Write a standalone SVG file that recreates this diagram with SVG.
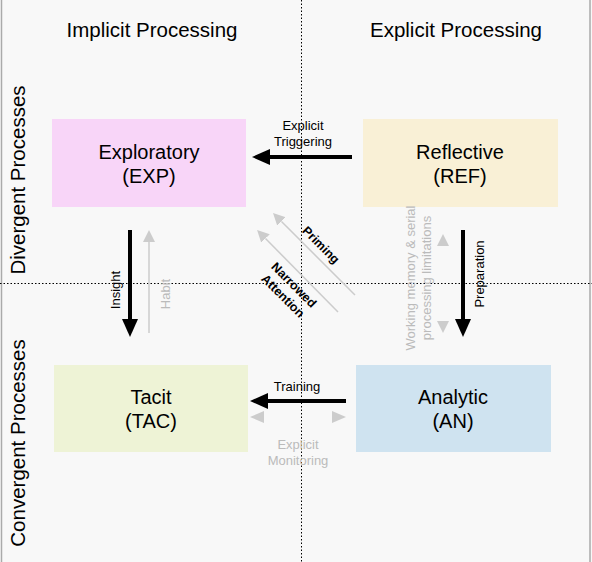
<svg xmlns="http://www.w3.org/2000/svg" width="592" height="562" viewBox="0 0 592 562">
<style>
text{font-family:"Liberation Sans",Arial,sans-serif;fill:#000;text-anchor:middle}
.hdr{font-size:20.5px}
.node{font-size:20px}
.lbl{font-size:13px}
.glbl{font-size:13px;fill:#bbbbbb}
.dlbl{font-size:12.5px;font-weight:bold}
.blk{stroke:#000;stroke-width:4;fill:none}
.gry{stroke:#cccccc;stroke-width:1.5;fill:none}
.ghead{fill:#cccccc}
.div{stroke:#000;stroke-width:1;stroke-dasharray:1.5,2;fill:none}
</style>
<defs>
<marker id="hb" markerUnits="userSpaceOnUse" markerWidth="18" markerHeight="16" viewBox="0 0 18 16" refX="0" refY="8" orient="auto"><path d="M0,0 L18,8 L0,16 z" fill="#000"/></marker>
<marker id="hg" markerUnits="userSpaceOnUse" markerWidth="12" markerHeight="12" viewBox="0 0 12 12" refX="0" refY="6" orient="auto"><path d="M0,0 L12,6 L0,12 z" fill="#cccccc"/></marker>
</defs>
<rect x="0" y="0" width="592" height="562" fill="#f8f8f8"/>
<line x1="1.5" y1="0" x2="1.5" y2="562" stroke="#aaaaaa" stroke-width="1.5"/>
<line x1="590" y1="0" x2="590" y2="562" stroke="#aaaaaa" stroke-width="1.5"/>
<g id="axes">
<line class="div" x1="301.5" y1="0" x2="301.5" y2="562"/>
<line class="div" x1="0" y1="283.5" x2="592" y2="283.5"/>
<text class="hdr" x="152" y="37">Implicit Processing</text>
<text class="hdr" x="456" y="37">Explicit Processing</text>
<text class="hdr" transform="translate(25,180) rotate(-90)">Divergent Processes</text>
<text class="hdr" transform="translate(25,443) rotate(-90)">Convergent Processes</text>
</g>
<g id="exp">
<rect x="52" y="119" width="194" height="88" fill="#f8d5f8"/>
<text class="node" x="149" y="159">Exploratory</text>
<text class="node" x="149" y="183">(EXP)</text>
</g>
<g id="ref">
<rect x="363" y="119" width="195" height="88" fill="#f9f0d6"/>
<text class="node" x="460" y="159">Reflective</text>
<text class="node" x="460" y="183">(REF)</text>
</g>
<g id="tac">
<rect x="54" y="365" width="194" height="87" fill="#eef3d6"/>
<text class="node" x="151" y="404">Tacit</text>
<text class="node" x="151" y="428">(TAC)</text>
</g>
<g id="an">
<rect x="356" y="365" width="195" height="87" fill="#cfe3f0"/>
<text class="node" x="453" y="404">Analytic</text>
<text class="node" x="453" y="428">(AN)</text>
</g>
<g id="connectors">
<line class="blk" x1="352" y1="157" x2="270" y2="157" marker-end="url(#hb)"/>
<text class="lbl" x="303" y="130">Explicit</text>
<text class="lbl" x="303" y="146">Triggering</text>
<line class="blk" x1="130" y1="230" x2="130" y2="319" marker-end="url(#hb)"/>
<text class="lbl" transform="translate(120,290) rotate(-90)">Insight</text>
<line class="gry" x1="149" y1="333" x2="149" y2="242" marker-end="url(#hg)"/>
<text class="glbl" transform="translate(170,294) rotate(-90)">Habit</text>
<line class="blk" x1="463" y1="230" x2="463" y2="319" marker-end="url(#hb)"/>
<text class="lbl" transform="translate(484,274) rotate(-90)">Preparation</text>
<polygon class="ghead" points="443,234 449,246 437,246"/>
<polygon class="ghead" points="443,333 449,321 437,321"/>
<text class="glbl" transform="translate(415,278) rotate(-90)">Working memory &amp; serial</text>
<text class="glbl" transform="translate(431,278) rotate(-90)">processing limitations</text>
<line class="gry" x1="355" y1="295" x2="281.5" y2="221.5" marker-end="url(#hg)"/>
<line class="gry" x1="338" y1="312" x2="265.5" y2="238.5" marker-end="url(#hg)"/>
<text class="dlbl" transform="translate(318,248) rotate(45)">Priming</text>
<text class="dlbl" transform="translate(291,288) rotate(45)">Narrowed</text>
<text class="dlbl" transform="translate(280,299) rotate(45)">Attention</text>
<line class="blk" x1="346" y1="401" x2="268" y2="401" marker-end="url(#hb)"/>
<text class="lbl" x="297" y="391">Training</text>
<polygon class="ghead" points="250,417 264,411 264,423"/>
<polygon class="ghead" points="346,417 332,411 332,423"/>
<text class="glbl" x="298" y="449">Explicit</text>
<text class="glbl" x="298" y="465">Monitoring</text>
</g>
</svg>
